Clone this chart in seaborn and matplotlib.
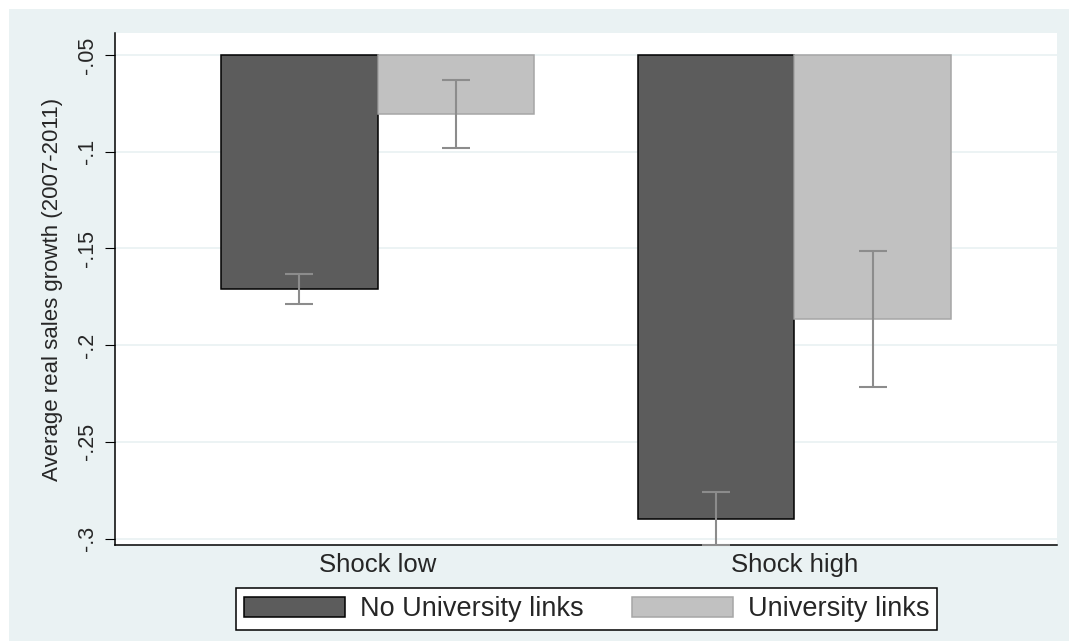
import numpy as np
import pandas as pd
import matplotlib
matplotlib.use("Agg")
import matplotlib.pyplot as plt
import seaborn as sns
from matplotlib.patches import Rectangle

# Values
shocks = ["Shock low", "Shock high"]
groups = ["No University links", "University links"]
mean_no_links = [-0.1710, -0.2897]
mean_links = [-0.0805, -0.1864]
lo_no_links = [-0.1787, -0.3032]
hi_no_links = [-0.1632, -0.2762]
lo_links = [-0.0981, -0.2215]
hi_links = [-0.0629, -0.1512]
yticks = [-0.3, -0.25, -0.2, -0.15, -0.1, -0.05]
ytick_labels = ["-.3", "-.25", "-.2", "-.15", "-.1", "-.05"]
base = -0.05  # bars hang down from the top tick, Stata style

df = pd.DataFrame({
    "shock": shocks * 2,
    "group": [groups[0]] * 2 + [groups[1]] * 2,
    "mean": mean_no_links + mean_links,
    "lo": lo_no_links + lo_links,
    "hi": hi_no_links + hi_links,
})
df["height"] = df["mean"] - base

sns.set_style("white")
plt.rcParams["font.family"] = ["Liberation Sans", "DejaVu Sans"]

bg = "#EAF2F3"
dark = "#5C5C5C"
light = "#C1C1C1"

fig = plt.figure(figsize=(10.69, 6.41), dpi=100, facecolor=bg)
ax = fig.add_axes([115 / 1069, 96 / 641, 942 / 1069, 512 / 641])
ax.set_facecolor("white")

sns.barplot(data=df, x="shock", y="height", hue="group", order=shocks,
            hue_order=groups, palette=[dark, light], bottom=base,
            errorbar=None, width=0.75, saturation=1, linewidth=1.1,
            edgecolor="black", legend=False, ax=ax)

# lighter outline on the light bars
for p in ax.containers[1]:
    p.set_edgecolor("#A6A6A6")

# confidence intervals
for cont, grp in zip(ax.containers, groups):
    sub = df[df["group"] == grp]
    xs = [p.get_x() + p.get_width() / 2 for p in cont]
    ax.errorbar(xs, sub["mean"],
                yerr=[sub["mean"] - sub["lo"], sub["hi"] - sub["mean"]],
                fmt="none", ecolor="#8C8C8C", elinewidth=1.5, capsize=10,
                capthick=1.5, clip_on=False, zorder=3)

ax.set_ylim(-0.30336, -0.0386)
ax.set_xlim(-0.63, 1.63)
ax.set_yticks(yticks, ytick_labels, rotation=90, va="center", fontsize=15.5)
ax.tick_params(axis="y", length=7.2, width=0.8, pad=5, color="black", left=True)
ax.tick_params(axis="x", length=0, pad=6, labelsize=18.5)
ax.set_xlabel("")
ax.set_ylabel("Average real sales growth (2007-2011)", fontsize=16)
ax.yaxis.set_label_coords(-0.055, 0.5)

ax.yaxis.grid(True, color=bg, linewidth=1.3)
ax.xaxis.grid(False)
ax.set_axisbelow(True)

for s in ["top", "right"]:
    ax.spines[s].set_visible(False)
for s in ["left", "bottom"]:
    ax.spines[s].set_color("black")
    ax.spines[s].set_linewidth(1.1)

leg = ax.legend(handles=list(ax.containers), labels=groups, loc="upper center",
                bbox_to_anchor=(586.5 / 1069, 1 - 588 / 641),
                bbox_transform=fig.transFigure, ncol=2, frameon=True,
                fancybox=False, edgecolor="black", framealpha=1, fontsize=19.5,
                handlelength=3.73, handleheight=0.78, handletextpad=0.55,
                columnspacing=1.8, borderpad=0.3, borderaxespad=0)
leg.get_frame().set_linewidth(1.1)

# white margin at the top and left of the scanned figure
fig.add_artist(Rectangle((0, 1 - 9 / 641), 1, 9 / 641, transform=fig.transFigure,
                         facecolor="white", edgecolor="none"))
fig.add_artist(Rectangle((0, 0), 9 / 1069, 1, transform=fig.transFigure,
                         facecolor="white", edgecolor="none"))

fig.savefig("out.png", dpi=100, facecolor=fig.get_facecolor())
